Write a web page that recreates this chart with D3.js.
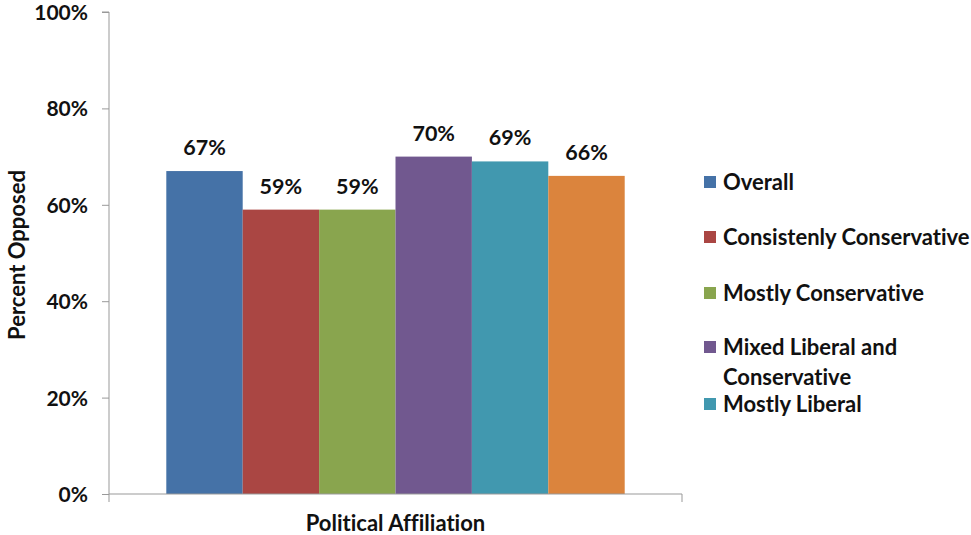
<!DOCTYPE html>
<html><head><meta charset="utf-8">
<script src="https://cdn.jsdelivr.net/npm/d3@7"></script>
<style>body{margin:0;background:#fff}text{font-family:Lato,"Open Sans",sans-serif;font-weight:bold;fill:#111;font-variant-ligatures:none}</style>
</head><body><svg id="c" width="971" height="535"></svg>
<script>
const categories = ["Overall","Consistenly Conservative","Mostly Conservative","Mixed Liberal and Conservative","Mostly Liberal","Consistently Liberal"];
const values = [67,59,59,70,69,66];
const colors = ["#4572A7","#AA4643","#89A54E","#71588F","#4198AF","#DB843D"];
const yTicks = [0,20,40,60,80,100];
const legendItems = [["Overall"],["Consistenly Conservative"],["Mostly Conservative"],["Mixed Liberal and","Conservative"],["Mostly Liberal"]];
const legendY = [182,237,293,347,404];

const svg = d3.select("#c");
const x0 = 109, x1 = 682, yTop = 12, yBot = 494;
const y = d3.scaleLinear().domain([0,100]).range([yBot,yTop]);
const outer = d3.scaleBand().domain(["g"]).range([x0,x1]).paddingInner(0).paddingOuter(0);
const groupW = outer.bandwidth()*6/7.5;
const gx = outer("g") + (outer.bandwidth()-groupW)/2;
const x = d3.scaleBand().domain(categories).range([gx, gx+groupW]).padding(0);

const axisColor = "#999";
const ya = svg.append("g").attr("transform",`translate(${x0},0)`)
  .call(d3.axisLeft(y).tickValues(yTicks).tickSize(7).tickFormat(d=>d+"%"));
ya.select(".domain").attr("stroke",axisColor).attr("d",`M-7,${yTop}H0V${yBot}`);
ya.selectAll(".tick line").attr("stroke",axisColor);
ya.selectAll(".tick text").attr("x",-21).attr("dy","0.36em").style("font-size","21px")
  .style("font-family","Lato,sans-serif").style("font-weight","bold").attr("fill","#111");

svg.append("g").selectAll("rect").data(values).join("rect")
  .attr("x",(d,i)=>x(categories[i])).attr("width",x.bandwidth())
  .attr("y",d=>y(d)).attr("height",d=>yBot-y(d)).attr("fill",(d,i)=>colors[i]);

svg.append("g").selectAll("text").data(values).join("text")
  .attr("x",(d,i)=>x(categories[i])+x.bandwidth()/2).attr("y",d=>y(d)-16)
  .attr("text-anchor","middle").style("font-size","21.5px").text(d=>d+"%");

svg.append("path").attr("d",`M${x0},${yBot}H${x1}V${yBot+8}M${x0},${yBot}V${yBot+8}`)
  .attr("stroke",axisColor).attr("fill","none");

svg.append("text").attr("x",(x0+x1)/2).attr("y",531).attr("text-anchor","middle")
  .style("font-size","22px").text("Political Affiliation");
svg.append("text").attr("transform","translate(25,255) rotate(-90)").attr("text-anchor","middle")
  .style("font-size","22px").text("Percent Opposed");

const lg = svg.append("g");
legendItems.forEach((lines,i)=>{
  lg.append("rect").attr("x",704).attr("y",legendY[i]-6).attr("width",12).attr("height",12).attr("fill",colors[i]);
  lines.forEach((t,j)=>{
    lg.append("text").attr("x",723).attr("y",legendY[i]+7.5+j*30).style("font-size","22px").text(t);
  });
});
</script></body></html>
